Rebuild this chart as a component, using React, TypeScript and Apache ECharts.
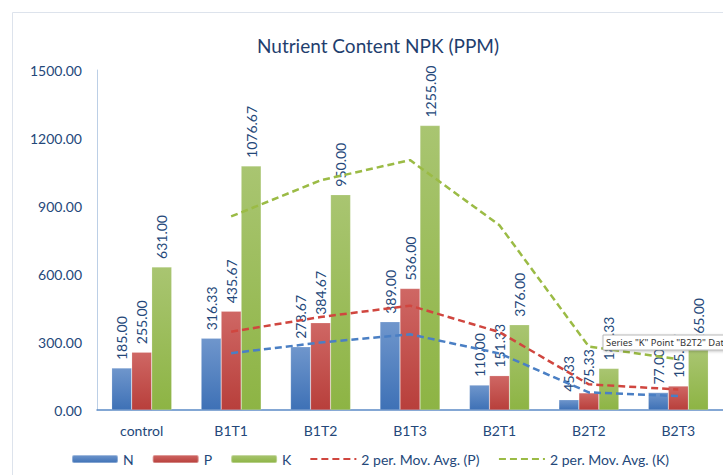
import React, { useEffect, useRef } from "react";
import * as echarts from "echarts";

const categories = ["control", "B1T1", "B1T2", "B1T3", "B2T1", "B2T2", "B2T3"];
const nValues = [185.0, 316.33, 278.67, 389.0, 110.0, 45.33, 77.0];
const pValues = [255.0, 435.67, 384.67, 536.0, 151.33, 75.33, 105.67];
const kValues = [631.0, 1076.67, 950.0, 1255.0, 376.0, 183.33, 265.0];
const nMovAvg = [null, 250.67, 297.5, 333.83, 249.5, 77.67, 61.17];
const pMovAvg = [null, 345.33, 410.17, 460.33, 343.67, 113.33, 90.5];
const kMovAvg = [null, 853.83, 1013.33, 1102.5, 815.5, 279.67, 224.17];
const yTicks = [0, 300, 600, 900, 1200, 1500];
const legendNames = ["N", "P", "K", "2 per. Mov. Avg. (P)", "2 per. Mov. Avg. (K)"];

const FONT = "Lato";
const TEXT_BLUE = "#24487a";

function grad(top: string, bottom: string) {
  return new echarts.graphic.LinearGradient(0, 0, 0, 1, [
    { offset: 0, color: top },
    { offset: 1, color: bottom },
  ]);
}

export default function App() {
  const ref = useRef<HTMLDivElement>(null);
  useEffect(() => {
    if (!ref.current) return;
    const chart = echarts.init(ref.current, undefined, { renderer: "svg" });
    const barLabel = {
      show: true,
      position: "top",
      rotate: 90,
      align: "left",
      verticalAlign: "middle",
      distance: 8,
      color: TEXT_BLUE,
      fontFamily: FONT,
      fontSize: 14,
      formatter: (p: any) => Number(p.value).toFixed(2),
    };
    const lineSeries = (name: string, data: any[], color: string) => ({
      name,
      type: "line",
      data,
      symbol: "none",
      showSymbol: false,
      smooth: false,
      z: 5,
      lineStyle: { color, width: 2.5, type: [7, 4] },
      itemStyle: { color },
    });
    chart.setOption({
      animation: false,
      backgroundColor: "#ffffff",
      textStyle: { fontFamily: FONT },
      title: {
        text: "Nutrient Content NPK (PPM)",
        left: 373,
        textAlign: "center",
        top: 31,
        textStyle: { fontFamily: FONT, fontSize: 19, fontWeight: "normal", color: "#1f3e6e" },
      },
      legend: {
        left: 66,
        top: 447,
        itemWidth: 46,
        itemHeight: 8,
        itemGap: 18,
        data: legendNames.map((n, i) =>
          i < 3 ? { name: n } : { name: n, itemStyle: { opacity: 0 } }
        ),
        textStyle: { fontFamily: FONT, fontSize: 14, color: TEXT_BLUE },
      },
      grid: { left: 97, top: 70, width: 634, height: 340, containLabel: false },
      xAxis: {
        type: "category",
        data: categories,
        axisLine: { show: true, lineStyle: { color: "#5b8ac6", width: 1.5 } },
        axisTick: { show: false },
        axisLabel: { color: TEXT_BLUE, fontFamily: FONT, fontSize: 14, margin: 13 },
      },
      yAxis: {
        type: "value",
        min: yTicks[0],
        max: yTicks[yTicks.length - 1],
        interval: 300,
        axisLine: { show: true, lineStyle: { color: "#bccfe6", width: 1 } },
        axisTick: { show: false },
        splitLine: { show: false },
        axisLabel: {
          color: TEXT_BLUE,
          fontFamily: FONT,
          fontSize: 14,
          margin: 15,
          formatter: (v: number) => v.toFixed(2),
        },
      },
      series: [
        {
          name: "N",
          type: "bar",
          data: nValues,
          barWidth: 20,
          barGap: "0%",
          itemStyle: { color: grad("#6f96cc", "#3e71b6"), borderColor: "rgba(255,255,255,0.35)", borderWidth: 0.5 },
          label: barLabel,
        },
        {
          name: "P",
          type: "bar",
          data: pValues,
          barWidth: 20,
          barGap: "0%",
          itemStyle: { color: grad("#cf6764", "#b83f3b"), borderColor: "rgba(255,255,255,0.35)", borderWidth: 0.5 },
          label: barLabel,
        },
        {
          name: "K",
          type: "bar",
          data: kValues,
          barWidth: 20,
          barGap: "0%",
          itemStyle: { color: grad("#a9c571", "#8db444"), borderColor: "rgba(255,255,255,0.35)", borderWidth: 0.5 },
          label: barLabel,
        },
        lineSeries("2 per. Mov. Avg. (N)", nMovAvg, "#4a7fc4"),
        lineSeries("2 per. Mov. Avg. (P)", pMovAvg, "#d0463f"),
        lineSeries("2 per. Mov. Avg. (K)", kMovAvg, "#9bbb45"),
      ],
      graphic: [
        {
          type: "rect",
          z: -1,
          shape: { x: 12.5, y: 12.5, width: 760, height: 480 },
          style: { fill: "none", stroke: "#dde3ec", lineWidth: 1 },
          silent: true,
        },
        {
          type: "group",
          x: 603,
          y: 335,
          z: 1000,
          zlevel: 1,
          children: [
            {
              type: "rect",
              z: 1000,
              zlevel: 1,
              shape: { x: 0, y: 0, width: 150, height: 15 },
              style: {
                fill: "#ffffff",
                stroke: "#a8a8a8",
                lineWidth: 0.8,
                shadowBlur: 3,
                shadowColor: "rgba(0,0,0,0.25)",
                shadowOffsetX: 1,
                shadowOffsetY: 1,
              },
            },
            {
              type: "text",
              z: 1001,
              zlevel: 1,
              x: 3,
              y: 7.5,
              style: {
                text: 'Series "K" Point "B2T2" Dat',
                fontFamily: "Noto Sans",
                fontSize: 9.4,
                fill: "#333333",
                verticalAlign: "middle",
              },
            },
          ],
        },
      ],
    });
    return () => chart.dispose();
  }, []);
  return (
    <div
      ref={ref}
      style={{ position: "absolute", left: 0, top: 0, width: 723, height: 475 }}
    />
  );
}
